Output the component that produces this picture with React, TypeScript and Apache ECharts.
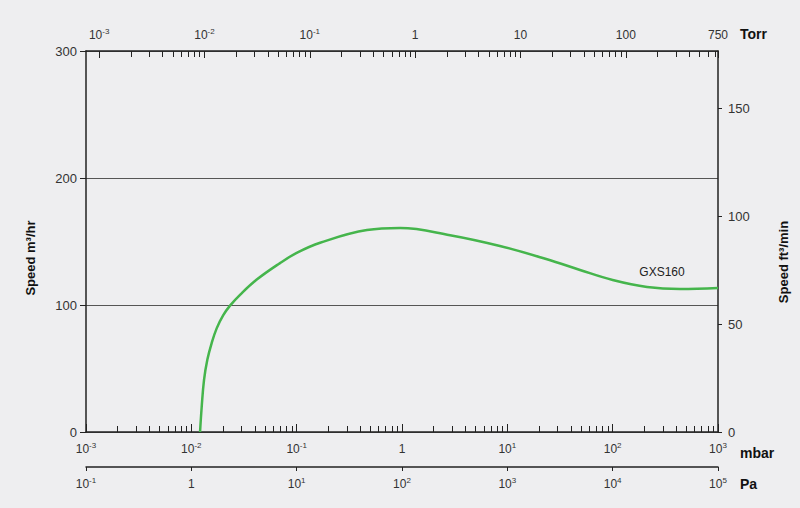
import React, { useEffect, useRef } from 'react';
import * as echarts from 'echarts';

// GXS160 pumping speed curve (pressure in mbar, speed in m³/h)
const pressureMbar = [0.0121, 0.01254, 0.0132, 0.0142, 0.0156, 0.0174, 0.0201, 0.0233, 0.029, 0.0418, 0.0695, 0.1, 0.167, 0.465, 0.96, 2.86, 8.5, 23.8, 49, 100, 212, 436, 1000];
const speedM3h = [0, 19.7, 41, 57, 70, 81.6, 92, 99.5, 108, 120, 133, 141, 149, 159, 160.6, 155, 146.5, 136, 127.6, 119.7, 114.2, 112.6, 113.4];

const seriesName = 'GXS160';
const labelPoint = { mbar: 294, speed: 126 };

// axes
const mbarExponents = [-3, -2, -1, 0, 1, 2, 3];
const paExponents = [-1, 0, 1, 2, 3, 4, 5];
const torrMajor = [0.001, 0.01, 0.1, 1, 10, 100, 750];
const torrLabels = ['10^-3', '10^-2', '10^-1', '1', '10', '100', '750'];
const leftTicks = [0, 100, 200, 300];
const rightTicks = [0, 50, 100, 150];

const TORR_TO_MBAR = 1.333224;
const M3H_TO_CFM = 0.588578;

const FONT = '"Liberation Sans", Arial, sans-serif';
const TXT = '#333';
const AX = '#222';

const lg = (v: number) => Math.log10(v);

const mbarMinor: number[] = [];
for (let e = -3; e < 3; e++) for (let k = 2; k <= 9; k++) mbarMinor.push(lg(k * Math.pow(10, e)));

const torrMinor: number[] = [];
for (let e = -3; e < 3; e++) {
  for (let k = 2; k <= 9; k++) {
    const t = k * Math.pow(10, e);
    if (t < 750) torrMinor.push(lg(t * TORR_TO_MBAR));
  }
}
const torrMajorPos = torrMajor.map((t) => lg(t * TORR_TO_MBAR));

const fmtLabel = (s: string) => {
  const m = s.match(/^10\^(-?\d+)$/);
  if (m) return `{b|10}{s|${m[1]}}`;
  return `{b|${s}}`;
};
const expLabel = (n: number) => (n === 0 ? '{b|1}' : `{b|10}{s|${n}}`);

const rich = {
  b: { fontSize: 12, fontFamily: FONT, color: TXT, lineHeight: 14, verticalAlign: 'bottom' },
  s: { fontSize: 8, fontFamily: FONT, color: TXT, lineHeight: 8, verticalAlign: 'top' },
};

const near = (arr: number[], v: number) => arr.findIndex((a) => Math.abs(a - v) < 1e-6);

export default function App() {
  const ref = useRef<HTMLDivElement>(null);
  useEffect(() => {
    if (!ref.current) return;
    const chart = echarts.init(ref.current, undefined, { renderer: 'svg' });
    const xBase = { type: 'value', min: -3, max: 3, gridIndex: 0, splitLine: { show: false } };
    chart.setOption({
      animation: false,
      backgroundColor: '#eeeef0',
      grid: { left: 86, right: 82, top: 51, bottom: 76, containLabel: false },
      xAxis: [
        {
          ...xBase,
          position: 'bottom',
          axisLine: { show: true, onZero: false, lineStyle: { color: AX, width: 1.5 } },
          axisTick: { show: true, inside: true, length: 8, customValues: mbarExponents, lineStyle: { color: AX } },
          axisLabel: {
            show: true, margin: 9, customValues: mbarExponents, rich,
            formatter: (v: number) => expLabel(Math.round(v)),
          },
        },
        {
          ...xBase,
          position: 'bottom',
          axisLine: { show: false, onZero: false },
          axisTick: { show: true, inside: true, length: 6, customValues: mbarMinor, lineStyle: { color: AX } },
          axisLabel: { show: false },
        },
        {
          ...xBase,
          position: 'top',
          axisLine: { show: true, onZero: false, lineStyle: { color: AX, width: 1.5 } },
          axisTick: { show: true, inside: true, length: 7, customValues: torrMajorPos, lineStyle: { color: AX } },
          axisLabel: {
            show: true, margin: 10, customValues: torrMajorPos, rich,
            formatter: (v: number) => {
              const i = near(torrMajorPos, v);
              return i >= 0 ? fmtLabel(torrLabels[i]) : '';
            },
          },
        },
        {
          ...xBase,
          position: 'top',
          axisLine: { show: false, onZero: false },
          axisTick: { show: true, inside: true, length: 6, customValues: torrMinor, lineStyle: { color: AX } },
          axisLabel: { show: false },
        },
        {
          ...xBase,
          position: 'bottom',
          offset: 35,
          axisLine: { show: true, onZero: false, lineStyle: { color: AX, width: 1.5 } },
          axisTick: { show: true, inside: false, length: 4, customValues: mbarExponents, lineStyle: { color: AX } },
          axisLabel: {
            show: true, margin: 9, customValues: mbarExponents, rich,
            formatter: (v: number) => expLabel(paExponents[near(mbarExponents, v)]),
          },
        },
      ],
      yAxis: [
        {
          type: 'value', min: 0, max: 300, interval: 100, position: 'left',
          axisLine: { show: true, onZero: false, lineStyle: { color: AX, width: 1.5 } },
          axisTick: { show: true, inside: false, length: 6, customValues: leftTicks, lineStyle: { color: AX } },
          axisLabel: { show: true, margin: 9, fontSize: 13, color: TXT, fontFamily: FONT, customValues: leftTicks },
          splitLine: { show: true, lineStyle: { color: '#555', width: 1 } },
        },
        {
          type: 'value', min: 0, max: 300 * M3H_TO_CFM, position: 'right',
          axisLine: { show: true, onZero: false, lineStyle: { color: AX, width: 1.5 } },
          axisTick: { show: true, inside: false, length: 4, customValues: rightTicks, lineStyle: { color: AX } },
          axisLabel: {
            show: true, margin: 10, fontSize: 13, color: TXT, fontFamily: FONT, customValues: rightTicks,
            formatter: (v: number) => (rightTicks.some((t) => Math.abs(t - v) < 1e-6) ? String(Math.round(v)) : ''),
          },
          splitLine: { show: false },
        },
      ],
      series: [
        {
          type: 'line',
          name: seriesName,
          xAxisIndex: 0,
          yAxisIndex: 0,
          data: pressureMbar.map((p, i) => [lg(p), speedM3h[i]]),
          smooth: 0.4,
          showSymbol: false,
          symbol: 'none',
          lineStyle: { color: '#45b54c', width: 2.5 },
          markPoint: {
            symbol: 'circle',
            symbolSize: 0,
            silent: true,
            data: [{ coord: [lg(labelPoint.mbar), labelPoint.speed] }],
            label: {
              show: true, position: 'inside', formatter: seriesName,
              fontSize: 12, color: '#222', fontFamily: FONT,
            },
          },
        },
      ],
      graphic: [
        {
          type: 'text', x: 30, y: 258, rotation: Math.PI / 2,
          style: { text: 'Speed m³/hr', fontSize: 13, fontWeight: 'bold', fontFamily: FONT, fill: '#111', align: 'center', verticalAlign: 'middle' },
        },
        {
          type: 'text', x: 783, y: 262, rotation: Math.PI / 2,
          style: { text: 'Speed ft³/min', fontSize: 13, fontWeight: 'bold', fontFamily: FONT, fill: '#111', align: 'center', verticalAlign: 'middle' },
        },
        {
          type: 'text', x: 740, y: 34,
          style: { text: 'Torr', fontSize: 14, fontWeight: 'bold', fontFamily: FONT, fill: '#111', align: 'left', verticalAlign: 'middle' },
        },
        {
          type: 'text', x: 740, y: 453,
          style: { text: 'mbar', fontSize: 14, fontWeight: 'bold', fontFamily: FONT, fill: '#111', align: 'left', verticalAlign: 'middle' },
        },
        {
          type: 'text', x: 740, y: 484,
          style: { text: 'Pa', fontSize: 14, fontWeight: 'bold', fontFamily: FONT, fill: '#111', align: 'left', verticalAlign: 'middle' },
        },
      ],
    });
    return () => chart.dispose();
  }, []);
  return <div ref={ref} style={{ position: 'absolute', left: 0, top: 0, width: 800, height: 508 }} />;
}
